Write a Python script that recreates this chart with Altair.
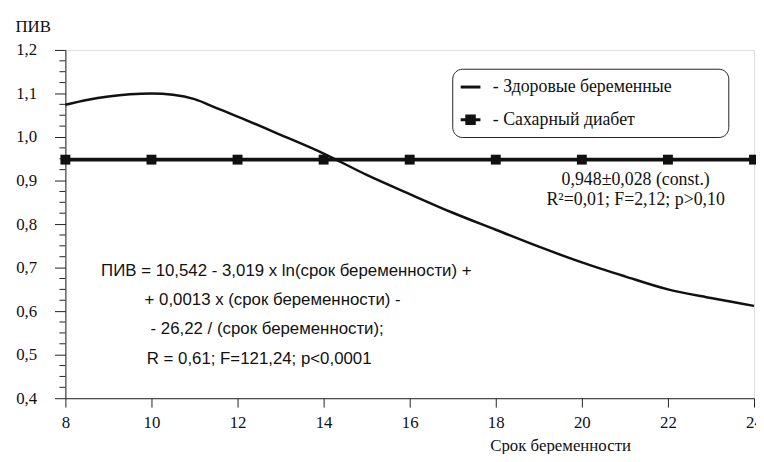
import altair as alt
import pandas as pd

# ---- data ----
series_names = ["Здоровые беременные", "Сахарный диабет"]

healthy_x = [8, 8.5, 9, 9.5, 10, 10.5, 11, 11.5, 12, 13, 14, 15, 16, 17, 18, 19, 20, 21, 22, 23, 24]
healthy_y = [1.074, 1.085, 1.093, 1.098, 1.100, 1.097, 1.087, 1.067, 1.047, 1.005, 0.962,
             0.913, 0.869, 0.826, 0.787, 0.748, 0.712, 0.680, 0.650, 0.630, 0.612]

diab_x = [8, 10, 12, 14, 16, 18, 20, 22, 24]
diab_y = [0.948, 0.948, 0.948, 0.948, 0.948, 0.948, 0.948, 0.948, 0.948]

x_ticks = [8, 10, 12, 14, 16, 18, 20, 22, 24]
y_ticks = [0.4, 0.5, 0.6, 0.7, 0.8, 0.9, 1.0, 1.1, 1.2]
y_minor = [0.425, 0.45, 0.475, 0.525, 0.55, 0.575, 0.625, 0.65, 0.675,
           0.725, 0.75, 0.775, 0.825, 0.85, 0.875, 0.925, 0.95, 0.975,
           1.025, 1.05, 1.075, 1.125, 1.15, 1.175]

formula_text = [
    "ПИВ = 10,542 - 3,019 x ln(срок беременности) +",
    "+ 0,0013 x (срок беременности) -",
    "- 26,22 / (срок беременности);",
    "R = 0,61; F=121,24; p<0,0001",
]
formula_x = [8.83, 9.84, 9.98, 9.89]
formula_y = [0.693, 0.625, 0.559, 0.489]

const_text = ["0,948±0,028  (const.)", "R²=0,01; F=2,12; p>0,10"]
const_x = [21.25, 21.25]
const_y = [0.901, 0.855]

# ---- tables ----
healthy_df = pd.DataFrame({"x": healthy_x, "y": healthy_y, "series": series_names[0]})
diab_df = pd.DataFrame({"x": diab_x, "y": diab_y, "series": series_names[1]})
minor_df = pd.DataFrame({"y": y_minor})
formula_df = pd.DataFrame({"x": formula_x, "y": formula_y, "t": formula_text})
const_df = pd.DataFrame({"x": const_x, "y": const_y, "t": const_text})

INK = "#111111"
SERIF = "Liberation Serif"
SANS = "Liberation Sans"

X = alt.X("x:Q",
          scale=alt.Scale(domain=[8, 24], nice=False, zero=False),
          axis=alt.Axis(values=x_ticks, title="Срок беременности", grid=False,
                        tickSize=9, labelPadding=8, labelFlush=False,
                        labelFont=SERIF, labelFontSize=17, labelColor=INK,
                        domainColor="#222", tickColor="#222",
                        titleFont=SERIF, titleFontSize=17, titleFontWeight="normal",
                        titleColor=INK, titleX=500, titleY=48,
                        titleAlign="center", titleBaseline="middle"))
Y = alt.Y("y:Q",
          scale=alt.Scale(domain=[0.4, 1.2], nice=False, zero=False),
          axis=alt.Axis(values=y_ticks, title="ПИВ", grid=False,
                        labelExpr="replace(format(datum.value, '.1f'), '.', ',')",
                        tickSize=11, labelPadding=18,
                        labelFont=SERIF, labelFontSize=17, labelColor=INK,
                        domainColor="#222", tickColor="#222",
                        titleFont=SERIF, titleFontSize=17, titleFontWeight="normal",
                        titleColor=INK, titleAngle=0, titleX=-51, titleY=-24,
                        titleAlign="left", titleBaseline="middle"))

# legend symbol for the diabetes series: a line with a (stroked-solid) square on it
PATH_DIAB = ("M-1,0H1"
             "M-0.38,-0.38H0.38V0.38H-0.38Z"
             "M-0.24,-0.24H0.24V0.24H-0.24Z"
             "M-0.1,-0.1H0.1V0.1H-0.1Z")
# trailing blank space inside the legend box (zero-width char keeps it from being trimmed)
PAD = "\u00a0" * 11 + "\u200b"

shape = alt.Shape(
    "series:N",
    scale=alt.Scale(domain=series_names, range=["stroke", PATH_DIAB]),
    legend=alt.Legend(
        orient="none", legendX=391, legendY=19, title=None,
        symbolSize=400, symbolStrokeWidth=3,
        symbolStrokeColor=INK,
        labelFont=SERIF, labelFontSize=18, labelColor=INK, labelOffset=11,
        labelLimit=600,
        labelExpr="'- ' + datum.label + '" + PAD + "'",
        padding=7, rowPadding=12, strokeColor="#222", fillColor="white",
        cornerRadius=10,
    ),
)

healthy_line = alt.Chart(healthy_df).mark_line(
    interpolate="monotone", strokeWidth=2.5, color=INK).encode(x=X, y=Y)

diab_line = alt.Chart(diab_df).mark_line(strokeWidth=4, color=INK).encode(x=X, y=Y)

diab_pts = alt.Chart(diab_df).mark_square(size=100, filled=True, opacity=1, color=INK).encode(
    x=X, y=Y)

# layer that carries only the legend (no marks drawn)
legend_layer = alt.Chart(diab_df).transform_filter("false").mark_point(
    filled=False, color=INK, strokeWidth=3, opacity=1).encode(
    x=X, y=Y, shape=shape)

minor_ticks = alt.Chart(minor_df).mark_rule(color="#222", strokeWidth=1).encode(
    y=Y, x=alt.value(-6), x2=alt.value(0))

formula = alt.Chart(formula_df).mark_text(
    align="left", baseline="middle", font=SANS, fontSize=17, color=INK).encode(
    x=X, y=Y, text="t:N")

const_lbl = alt.Chart(const_df).mark_text(
    align="center", baseline="middle", font=SERIF, fontSize=18, color=INK).encode(
    x=X, y=Y, text="t:N")

chart = alt.layer(
    minor_ticks, healthy_line, diab_line, diab_pts, legend_layer, formula, const_lbl
).properties(
    width=696, height=352,
    autosize=alt.AutoSizeParams(type="none"),
    padding={"left": 58, "top": 40, "right": 2, "bottom": 54},
).configure_view(
    stroke="#222", strokeWidth=1
).configure_axis(
    labelFont=SERIF, titleFont=SERIF
).configure_legend(
    labelFont=SERIF
).configure(background="white")

chart.save("out.html", embed_options={"renderer": "svg", "actions": False})
